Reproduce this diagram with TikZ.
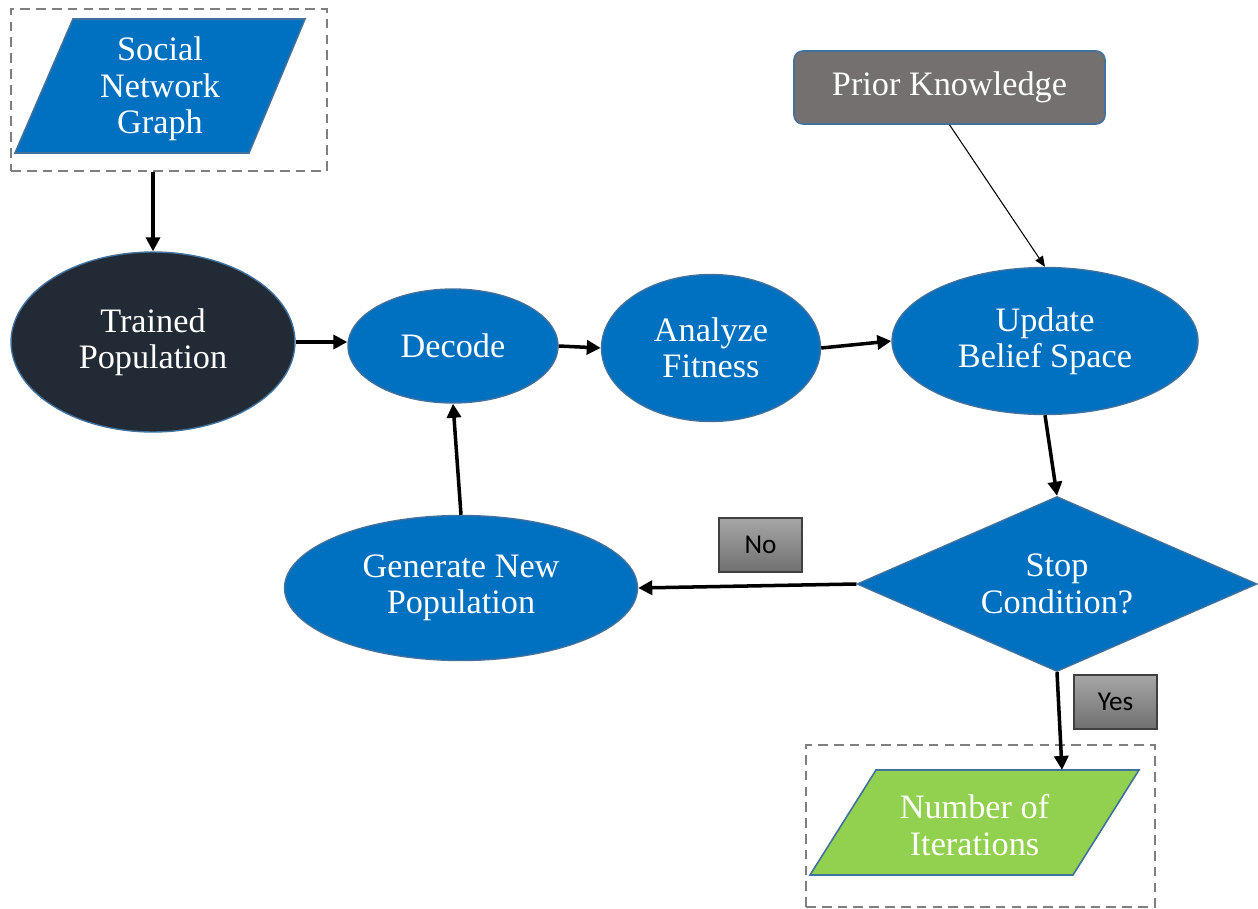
\documentclass[tikz,border=0pt]{standalone}
\usepackage{fontspec}
\setmainfont{Liberation Serif}
\newfontfamily\labfont{Carlito}
\usetikzlibrary{shapes.geometric,arrows.meta,calc}
\definecolor{mblue}{HTML}{0070C0}
\definecolor{edgeblue}{HTML}{41719C}
\definecolor{darkfill}{HTML}{222A35}
\definecolor{priorgray}{HTML}{757070}
\definecolor{mgreen}{HTML}{92D050}
\definecolor{dashgray}{HTML}{7F7F7F}
\definecolor{labtop}{HTML}{A6A6A6}
\definecolor{labbot}{HTML}{707070}
\begin{document}
\begin{tikzpicture}[x=0.02cm,y=-0.02cm,
  every node/.style={font=\fontsize{19.5}{20.7}\selectfont, text=white, align=center},
  proc/.style={ellipse, draw=edgeblue, line width=0.8pt, fill=mblue, inner sep=0pt},
  iobox/.style={draw=edgeblue, line width=0.9pt},
  dashbox/.style={rectangle, draw=dashgray, line width=1.1pt, dash pattern=on 5.5pt off 3.5pt, inner sep=0pt},
  conn/.style={draw=black, line width=2pt, -{Triangle[length=8pt,width=8pt]}},
  thinconn/.style={draw=black, line width=0.6pt, -{Triangle[length=6pt,width=5pt]}},
  lab/.style={rectangle, draw=black!75, line width=0.6pt, top color=labtop, bottom color=labbot,
    minimum width=1.66cm, minimum height=1.08cm, inner sep=0pt, text=black,
    font=\labfont\fontsize{15.5}{17}\selectfont}
]
\useasboundingbox (0,0) rectangle (1258,909);

% input box
\node[dashbox, minimum width=6.32cm, minimum height=3.24cm] (inbox) at (169,90) {};
\fill[mblue] (15,153) -- (249,153) -- (305,19) -- (73,19) -- cycle;
\draw[iobox] (15,153) -- (249,153) -- (305,19) -- (73,19) -- cycle;
\node (sng) at (160,89) {Social\\Network\\Graph};

% process nodes
\node[proc, fill=darkfill, minimum width=5.68cm, minimum height=3.6cm] (tp) at (153,342) {Trained\\Population};
\node[proc, minimum width=4.2cm, minimum height=2.28cm] (dec) at (453,346) {Decode};
\node[proc, minimum width=4.38cm, minimum height=2.94cm] (fit) at (711,348) {Analyze\\Fitness};
\node[proc, minimum width=6.12cm, minimum height=2.94cm] (upd) at (1045,341) {Update\\Belief Space};
\node[proc, minimum width=7.06cm, minimum height=2.9cm] (gen) at (461,588) {Generate New\\Population};
\node[rectangle, rounded corners=5pt, draw=edgeblue, line width=0.9pt, fill=priorgray,
  minimum width=6.22cm, minimum height=1.46cm, inner sep=0pt] (prior) at (949.5,87.5) {Prior Knowledge};
\node[diamond, aspect=2.3, draw=edgeblue, line width=0.8pt, fill=mblue, inner sep=0pt,
  minimum width=8cm, minimum height=3.5cm] (stop) at (1057,584) {Stop\\Condition?};

% output box
\node[dashbox, minimum width=6.98cm, minimum height=3.24cm] (outbox) at (980.5,826) {};
\fill[mgreen] (810,875) -- (1073,875) -- (1139,770) -- (876,770) -- cycle;
\draw[iobox] (810,875) -- (1073,875) -- (1139,770) -- (876,770) -- cycle;
\coordinate (nittop) at (1062,770);
\node (nit) at (974.5,825) {Number of\\Iterations};

% labels
\node[lab] (no) at (760.5,545) {No};
\node[lab] (yes) at (1115.5,702) {Yes};

% connectors
\draw[conn] (tp.north |- inbox.south) -- (tp.north);
\draw[conn] (tp.east) -- (tp.east -| dec.west);
\draw[conn] (dec.east) -- (fit.west);
\draw[conn] (fit.east) -- (upd.west);
\draw[thinconn] (prior.south) -- (upd.north);
\draw[conn] (upd.south) -- (stop.north);
\draw[conn] (stop.west) -- (gen.east);
\draw[conn] (gen.north) -- (dec.south);
\draw[conn] (stop.south) -- (nittop);
\end{tikzpicture}
\end{document}
